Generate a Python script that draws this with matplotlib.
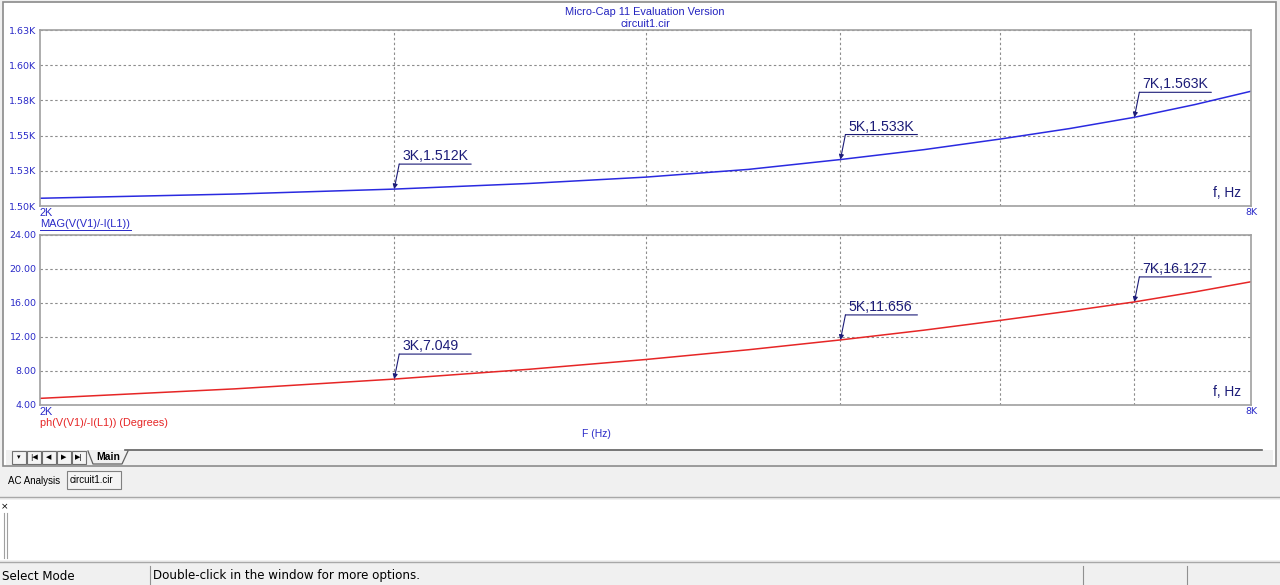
import matplotlib
matplotlib.use("Agg")
import matplotlib.pyplot as plt
from matplotlib.patches import Rectangle
from matplotlib.lines import Line2D
import matplotlib.transforms as mtransforms

# ---------------- data ----------------
freq_hz = [2000, 2500, 3000, 3500, 4000, 4500, 5000, 5500, 6000, 6500, 7000, 7500, 8000]
mag_kohm = [1.5055, 1.5085, 1.512, 1.516, 1.5205, 1.526, 1.533, 1.540, 1.5475, 1.555, 1.563, 1.572, 1.5815]
phase_deg = [4.78, 5.90, 7.049, 8.20, 9.35, 10.50, 11.656, 12.80, 13.95, 15.05, 16.127, 17.30, 18.50]

mag_ticks = [1.500, 1.525, 1.550, 1.575, 1.600, 1.625]
mag_tick_labels = ["1.50K", "1.53K", "1.55K", "1.58K", "1.60K", "1.63K"]
ph_ticks = [4, 8, 12, 16, 20, 24]
ph_tick_labels = ["4.00", "8.00", "12.00", "16.00", "20.00", "24.00"]
grid_freqs = [3000, 4000, 5000, 6000, 7000]

mag_marks = [(3000, 1.512, "3K,1.512K"), (5000, 1.533, "5K,1.533K"), (7000, 1.563, "7K,1.563K")]
ph_marks = [(3000, 7.049, "3K,7.049"), (5000, 11.656, "5K,11.656"), (7000, 16.127, "7K,16.127")]

# ---------------- figure ----------------
W, H = 1280, 585
fig = plt.figure(figsize=(W / 100, H / 100), dpi=100)
fig.patch.set_facecolor("#f0f0f0")
FONT = ["Liberation Sans", "DejaVu Sans"]
plt.rcParams["font.family"] = FONT

# background axes in pixel coordinates (y downward)
bg = fig.add_axes([0, 0, 1, 1])
bg.set_xlim(0, W)
bg.set_ylim(H, 0)
bg.axis("off")
bg.set_zorder(-10)

def rect(x0, y0, x1, y1, fc, ec="none", lw=1.0):
    bg.add_patch(Rectangle((x0, y0), x1 - x0, y1 - y0, facecolor=fc, edgecolor=ec, linewidth=lw))

def hline(y, x0, x1, c, lw=1.0):
    bg.add_line(Line2D([x0, x1], [y, y], color=c, linewidth=lw))

def vline(x, y0, y1, c, lw=1.0):
    bg.add_line(Line2D([x, x], [y0, y1], color=c, linewidth=lw))

# main plot window
rect(3, 2, 1276, 466, "#ffffff", "#8a8a8a", 1.2)
rect(6, 450, 1273, 465, "#f0f0f0")
hline(450, 125, 1262, "#606060", 1.2)
# tab buttons
bx = 12
for sym in ["▾", "|◀", "◀", "▶", "▶|"]:
    rect(bx, 451, bx + 14, 464, "#f4f4f4", "#707070", 0.8)
    bg.text(bx + 7, 457.5, sym, fontsize=5, ha="center", va="center", color="#000000", family="DejaVu Sans")
    bx += 15
bg.add_line(Line2D([88, 93, 122, 128], [451, 464, 464, 451], color="#606060", linewidth=0.9))
bg.text(96, 457, "Main", fontsize=7.5, fontweight="bold", ha="left", va="center", color="#000000")

# analysis tabs
bg.text(8, 481, "AC Analysis", fontsize=7, ha="left", va="center", color="#000000")
rect(67, 471, 121, 489, "#f4f4f4", "#808080", 0.8)
bg.text(70, 480, "circuit1.cir", fontsize=7, ha="left", va="center", color="#000000")
hline(497, 0, 1280, "#a8a8a8", 1.0)

# output panel
rect(0, 500, 1280, 560, "#ffffff")
bg.text(5, 507, "×", fontsize=6.5, ha="center", va="center", color="#000000", family="DejaVu Sans")
vline(4, 513, 558, "#a0a0a0", 0.8)
vline(7, 513, 558, "#a0a0a0", 0.8)
hline(562, 0, 1280, "#a8a8a8", 1.0)

# status bar
vline(150, 566, 585, "#909090", 0.8)
vline(1083, 566, 585, "#909090", 0.8)
vline(1187, 566, 585, "#909090", 0.8)
bg.text(2, 576, "Select Mode", fontsize=8.6, ha="left", va="center", color="#000000", family="DejaVu Sans")
bg.text(153, 575, "Double-click in the window for more options.", fontsize=8.6, ha="left", va="center",
        color="#000000", family="DejaVu Sans")

# title
bg.text(645, 12, "Micro-Cap 11 Evaluation Version", fontsize=7.9, ha="center", va="center", color="#2424c0")
bg.text(645, 24, "circuit1.cir", fontsize=7.9, ha="center", va="center", color="#2424c0")

# ---------------- data axes ----------------
def px_box(l, t, r, b):
    return [l / W, 1 - b / H, (r - l) / W, (b - t) / H]

ax1 = fig.add_axes(px_box(40, 30, 1251, 206))
ax2 = fig.add_axes(px_box(40, 235, 1251, 405))

BLUE_TXT = "#2a2ac8"
NAVY = "#1c1c78"
GRID = "#8c8c8c"

def style(ax, yticks, ylabels, ylim):
    ax.set_xscale("log")
    ax.set_xlim(2000, 8000)
    ax.set_ylim(*ylim)
    ax.set_xticks(grid_freqs)
    ax.set_xticklabels([])
    ax.xaxis.set_minor_locator(matplotlib.ticker.NullLocator())
    ax.set_yticks(yticks)
    ax.set_yticklabels(ylabels)
    ax.tick_params(axis="both", length=0, pad=2.5, labelsize=6.8, labelcolor=BLUE_TXT)
    for lab in ax.get_yticklabels():
        lab.set_fontfamily("DejaVu Sans")
        lab.set_fontsize(6.8)
    ax.grid(True, color=GRID, linestyle=(0, (2.2, 2.2)), linewidth=0.8)
    for s in ax.spines.values():
        s.set_color("#a0a0a0")
        s.set_linewidth(1.2)
    ax.set_facecolor("#ffffff")
    ax.text(1.0, -0.01, "8K", transform=ax.transAxes, ha="center", va="top",
            fontsize=6.8, color=BLUE_TXT, family="DejaVu Sans")
    ax.text(0.0, -0.01, "2K", transform=ax.transAxes, ha="left", va="top",
            fontsize=7.8, color=BLUE_TXT)
    ax.text(0.992, 0.075, "f, Hz", transform=ax.transAxes, ha="right", va="center",
            fontsize=9.8, color=NAVY)

style(ax1, mag_ticks, mag_tick_labels, (1.500, 1.625))
style(ax2, ph_ticks, ph_tick_labels, (4, 24))

ax1.plot(freq_hz, mag_kohm, color="#2a2ae0", linewidth=1.1)
ax2.plot(freq_hz, phase_deg, color="#e62626", linewidth=1.1)

def markers(ax, marks):
    for fx, val, label in marks:
        elbow = mtransforms.offset_copy(ax.transData, fig=fig, x=5, y=25, units="dots")
        ax.annotate("", xy=(fx, val), xycoords="data", xytext=(fx, val), textcoords=elbow,
                    arrowprops=dict(arrowstyle="-|>", color=NAVY, lw=0.8, mutation_scale=7,
                                    shrinkA=0, shrinkB=0))
        under_end = mtransforms.offset_copy(ax.transData, fig=fig, x=77, y=25, units="dots")
        ax.annotate("", xy=(fx, val), xycoords=under_end, xytext=(fx, val), textcoords=elbow,
                    arrowprops=dict(arrowstyle="-", color=NAVY, lw=0.8, shrinkA=0, shrinkB=0))
        txt = mtransforms.offset_copy(ax.transData, fig=fig, x=8, y=26, units="dots")
        ax.text(fx, val, label, transform=txt, ha="left", va="bottom", fontsize=10.2, color=NAVY)

markers(ax1, mag_marks)
markers(ax2, ph_marks)

# series labels
bg.text(40, 224, "MAG(V(V1)/-I(L1))", fontsize=7.9, ha="left", va="center", color=BLUE_TXT)
hline(229.5, 40, 131, BLUE_TXT, 0.7)
bg.text(40, 423, "ph(V(V1)/-I(L1)) (Degrees)", fontsize=7.8, ha="left", va="center", color="#e62626")
bg.text(596, 434, "F (Hz)", fontsize=7.5, ha="center", va="center", color=BLUE_TXT)

fig.savefig("out.png", dpi=100, facecolor=fig.get_facecolor())
